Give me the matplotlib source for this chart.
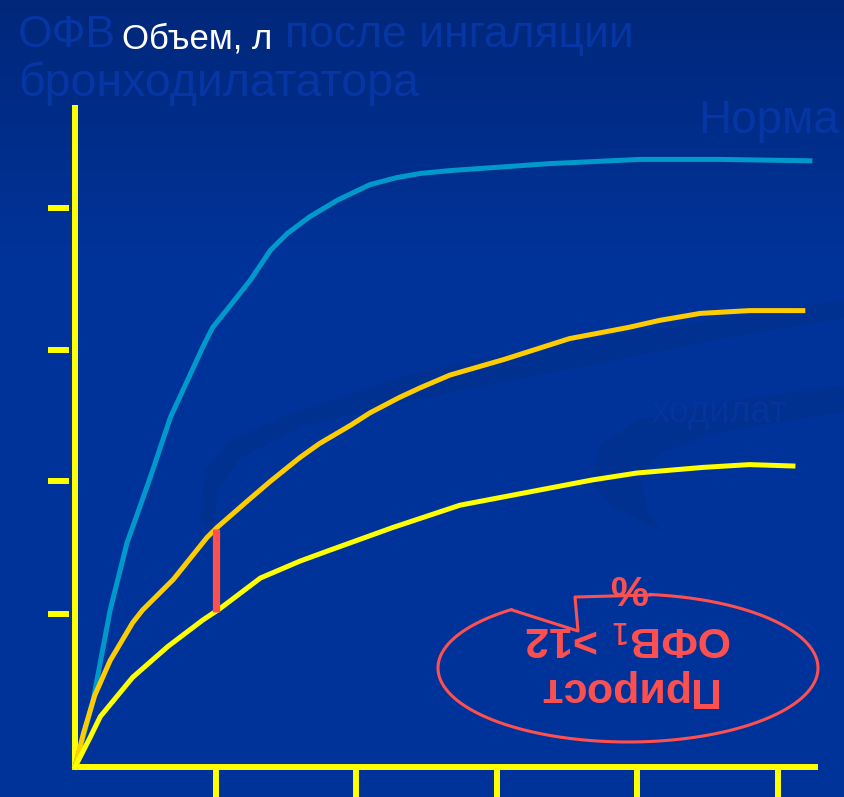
import numpy as np
import matplotlib
matplotlib.use("Agg")
import matplotlib.pyplot as plt
from matplotlib.patches import Polygon

# кривые форсированного выдоха: время, с / объем, л
t_norma = [0, 0.13, 0.25, 0.37, 0.48, 0.56, 0.68, 0.80, 0.91, 0.98, 1.10, 1.25, 1.39, 1.51,
           1.67, 1.87, 2.10, 2.29, 2.46, 2.67, 3.38, 4.02, 4.59, 5.23]
v_norma = [0, 0.48, 1.12, 1.60, 1.91, 2.14, 2.50, 2.76, 3.00, 3.14, 3.29, 3.48, 3.69, 3.81,
           3.93, 4.05, 4.16, 4.21, 4.24, 4.26, 4.31, 4.34, 4.34, 4.33]

t_posle = [0, 0.06, 0.14, 0.25, 0.41, 0.48, 0.70, 0.94, 1.01, 1.25, 1.39, 1.60, 1.74, 1.96,
           2.10, 2.31, 2.46, 2.67, 3.05, 3.52, 3.94, 4.16, 4.45, 4.80, 5.18]
v_posle = [0, 0.24, 0.51, 0.76, 1.03, 1.12, 1.34, 1.64, 1.71, 1.92, 2.04, 2.21, 2.31, 2.44,
           2.53, 2.64, 2.71, 2.80, 2.91, 3.06, 3.14, 3.19, 3.24, 3.26, 3.26]

t_do = [0, 0.036, 0.107, 0.18, 0.41, 0.66, 0.91, 1.03, 1.32, 1.60, 1.79, 2.26, 2.74, 3.21,
        3.68, 4.00, 4.47, 4.80, 5.11]
v_do = [0, 0.07, 0.21, 0.36, 0.64, 0.86, 1.05, 1.13, 1.35, 1.47, 1.54, 1.71, 1.87, 1.96,
        2.05, 2.10, 2.14, 2.16, 2.15]

x_ticks = [1, 2, 3, 4, 5]
y_ticks = [1.09, 2.04, 2.98, 3.99]
t_prirost = 1.0

W, H = 844, 797
fig = plt.figure(figsize=(W / 100, H / 100), dpi=100)

# фон слайда
bg = fig.add_axes([0, 0, 1, 1])
bg.set_xlim(0, W)
bg.set_ylim(H, 0)
bg.axis("off")
k = np.clip(np.arange(H) / 260.0, 0, 1)[:, None, None]
top = np.array([0.0, 0.155, 0.48])
bot = np.array([0.0, 0.2, 0.6])
grad = np.repeat(top * (1 - k) + bot * k, 2, axis=1)
bg.imshow(grad, extent=[0, W, H, 0], aspect="auto", zorder=0)

# темные полосы фона
band = "#003090"
bg.add_patch(Polygon([(200, 520), (205, 470), (230, 440), (300, 410), (415, 373), (550, 345),
                      (725, 318), (844, 300), (844, 318), (725, 338), (592, 365), (415, 399),
                      (300, 427), (240, 458), (218, 490), (213, 530)],
                     closed=True, fc=band, ec="none", zorder=1))
bg.add_patch(Polygon([(590, 480), (600, 445), (637, 420), (750, 398), (844, 385), (844, 412),
                      (720, 432), (662, 452), (640, 478), (648, 510), (662, 532), (610, 505)],
                     closed=True, fc=band, ec="none", zorder=1))

faint = "#0636a3"
fnt = "Liberation Sans"
bg.text(18, 47, "ОФВ", color=faint, fontsize=32, family=fnt, zorder=2)
bg.text(285, 47, "после ингаляции", color=faint, fontsize=32, family=fnt, zorder=2)
bg.text(18, 96, "бронходилататора", color=faint, fontsize=33.5, family=fnt, zorder=2)
bg.text(698, 133, "Норма", color=faint, fontsize=33, family=fnt, zorder=2)
bg.text(652, 422, "ходилат", color="#05349c", fontsize=26, family=fnt, zorder=2)

bg.text(122, 48, "Объем, л", color="white", fontsize=25, family=fnt, zorder=3)

# овал с перевернутой надписью
cx, cy, a, b = 628, 668, 190, 74
p1, p2 = (512, 610), (650, 595)
t1 = np.arctan2((p1[1] - cy) / b, (p1[0] - cx) / a)
t2 = np.arctan2((p2[1] - cy) / b, (p2[0] - cx) / a)
tt = np.linspace(t2, t1 + 2 * np.pi, 300)
red = "#ff5050"
bg.plot(cx + a * np.cos(tt), cy + b * np.sin(tt), color=red, lw=2.2, zorder=3)
bg.plot([p1[0], 578, 575, p2[0]], [p1[1], 631, 597, p2[1]], color=red, lw=2.2, zorder=3)

bg.text(627, 689, "Прирост", rotation=180, ha="center", va="center", color=red,
        fontsize=31, fontweight="bold", family=fnt, zorder=4)
bg.text(628, 638, "ОФВ$_1$ >12", rotation=180, ha="center", va="center", color=red,
        fontsize=31, fontweight="bold", family=fnt, zorder=4)
bg.text(628, 586, "%", rotation=180, ha="center", va="center", color=red,
        fontsize=31, fontweight="bold", family=fnt, zorder=4)

# оси графика
ox, oy, sx, sy = 75, 767, 140.5, 140.0
ax = fig.add_axes([0, 0, 1, 1])
ax.patch.set_alpha(0)
ax.set_xlim(-ox / sx, (W - ox) / sx)
ax.set_ylim((oy - H) / sy, oy / sy)
ax.axis("off")

yellow = "#ffff00"
ax.plot([0, 0], [0, (oy - 105) / sy], color=yellow, lw=4.3, solid_capstyle="butt")
ax.plot([0, (815 - ox) / sx], [0, 0], color=yellow, lw=4.3, solid_capstyle="projecting")
ax.hlines(y_ticks, -27 / sx, -6 / sx, color=yellow, lw=4.3)
ax.vlines(x_ticks, (oy - H) / sy, 0, color=yellow, lw=4.3)

ax.plot(t_norma, v_norma, color="#0099cc", lw=3.6, solid_joinstyle="round")
ax.plot(t_posle, v_posle, color="#ffcc00", lw=3.6, solid_joinstyle="round")
ax.plot(t_do, v_do, color=yellow, lw=3.6, solid_joinstyle="round")

v_low = np.interp(t_prirost, t_do, v_do)
v_high = np.interp(t_prirost, t_posle, v_posle)
ax.vlines(t_prirost, v_low, v_high, color=red, lw=5.2)

fig.savefig("out.png", dpi=100)
